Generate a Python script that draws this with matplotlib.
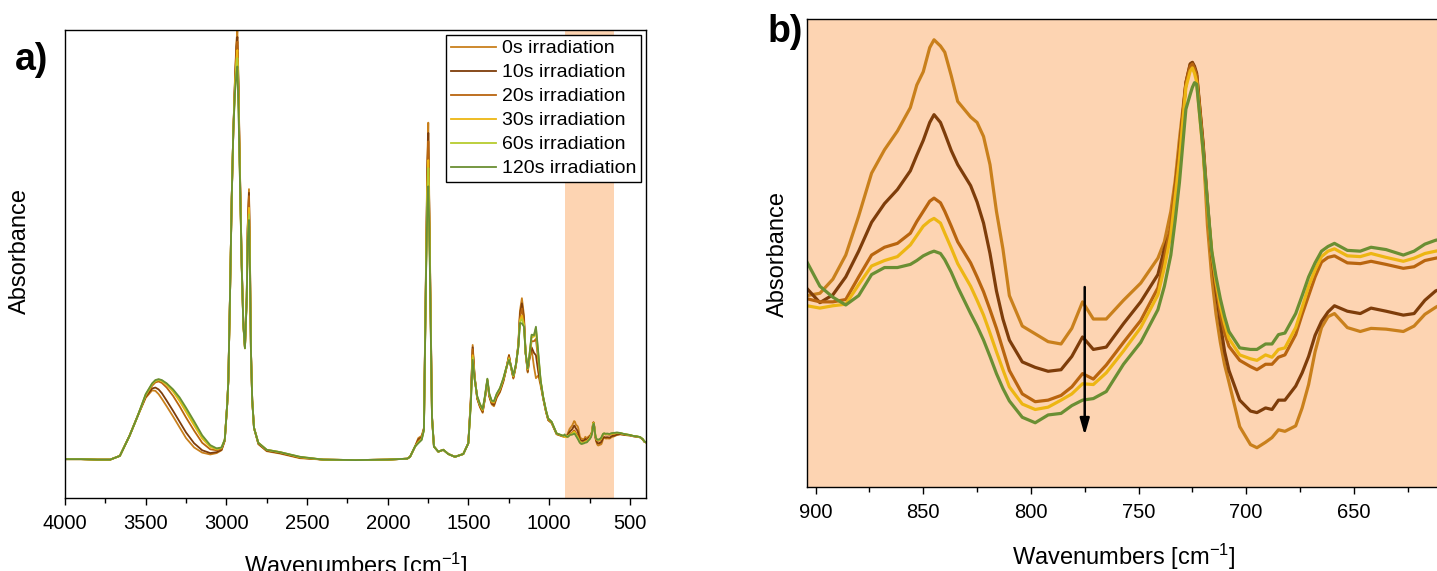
import numpy as np
import matplotlib
matplotlib.use("Agg")  # no display
import matplotlib.pyplot as plt
from matplotlib.ticker import MultipleLocator

plt.rcParams["font.family"] = ["Liberation Sans", "DejaVu Sans"]
plt.rcParams["mathtext.default"] = "regular"

labels = ["0s irradiation", "10s irradiation", "20s irradiation",
          "30s irradiation", "60s irradiation", "120s irradiation"]
colors = ["#C9801C", "#7E3D0A", "#B9650F", "#EDB613", "#B6CB2E", "#6A8F33"]
shade = "#FDD4B2"
zoom_window = (905, 600)

# wavenumbers [cm-1], high range (4000 - 913)
wn_hi = np.array([
    4000, 3900, 3800, 3720, 3660, 3600, 3550, 3500, 3460, 3440,
    3420, 3400, 3370, 3330, 3290, 3250, 3200, 3150, 3100, 3060,
    3030, 3010, 2995, 2988, 2978, 2967, 2957, 2947, 2938, 2932,
    2925, 2918, 2905, 2895, 2885, 2874, 2868, 2860, 2854, 2848,
    2840, 2829, 2802, 2750, 2668, 2544, 2400, 2200, 2000, 1880,
    1862, 1831, 1811, 1790, 1776, 1763, 1755, 1749, 1743, 1734,
    1726, 1714, 1687, 1656, 1625, 1584, 1532, 1501, 1486, 1474,
    1462, 1446, 1429, 1412, 1398, 1383, 1371, 1356, 1342, 1325,
    1305, 1284, 1268, 1249, 1237, 1222, 1206, 1191, 1181, 1169,
    1156, 1146, 1133, 1123, 1109, 1094, 1082, 1067, 1053, 1037,
    1020, 1006, 985, 954, 913])

hi_0s = [
    0.083, 0.083, 0.082, 0.082, 0.090, 0.133, 0.175, 0.214, 0.230, 0.229,
    0.222, 0.212, 0.196, 0.174, 0.151, 0.128, 0.108, 0.097, 0.093, 0.096,
    0.102, 0.122, 0.200, 0.250, 0.425, 0.640, 0.785, 0.895, 0.975, 0.998,
    0.890, 0.740, 0.500, 0.375, 0.320, 0.430, 0.580, 0.660, 0.520, 0.320,
    0.210, 0.150, 0.115, 0.100, 0.095, 0.085, 0.082, 0.081, 0.082, 0.084,
    0.088, 0.110, 0.128, 0.133, 0.150, 0.500, 0.720, 0.802, 0.640, 0.390,
    0.175, 0.110, 0.099, 0.103, 0.094, 0.088, 0.094, 0.117, 0.209, 0.327,
    0.262, 0.212, 0.194, 0.182, 0.212, 0.250, 0.216, 0.200, 0.196, 0.214,
    0.226, 0.248, 0.272, 0.306, 0.280, 0.255, 0.282, 0.330, 0.400, 0.427,
    0.390, 0.310, 0.268, 0.295, 0.318, 0.280, 0.256, 0.262, 0.240, 0.212,
    0.184, 0.166, 0.160, 0.136, 0.131]
hi_10s = [
    0.083, 0.083, 0.082, 0.082, 0.090, 0.133, 0.175, 0.216, 0.234, 0.236,
    0.232, 0.224, 0.208, 0.186, 0.163, 0.140, 0.117, 0.102, 0.096, 0.098,
    0.103, 0.123, 0.200, 0.250, 0.425, 0.640, 0.785, 0.890, 0.965, 0.985,
    0.880, 0.735, 0.498, 0.372, 0.320, 0.430, 0.576, 0.652, 0.515, 0.318,
    0.210, 0.150, 0.116, 0.101, 0.096, 0.086, 0.082, 0.081, 0.082, 0.084,
    0.088, 0.110, 0.125, 0.130, 0.148, 0.496, 0.705, 0.780, 0.628, 0.385,
    0.174, 0.110, 0.099, 0.103, 0.094, 0.088, 0.094, 0.117, 0.207, 0.322,
    0.260, 0.213, 0.196, 0.184, 0.213, 0.251, 0.218, 0.202, 0.199, 0.216,
    0.228, 0.250, 0.273, 0.304, 0.281, 0.257, 0.283, 0.328, 0.392, 0.416,
    0.382, 0.310, 0.270, 0.297, 0.322, 0.310, 0.305, 0.268, 0.246, 0.213,
    0.185, 0.167, 0.161, 0.137, 0.132]
hi_20s = [
    0.083, 0.083, 0.082, 0.082, 0.090, 0.133, 0.175, 0.218, 0.240, 0.247,
    0.249, 0.246, 0.236, 0.218, 0.196, 0.172, 0.144, 0.118, 0.104, 0.102,
    0.105, 0.124, 0.200, 0.250, 0.425, 0.640, 0.785, 0.885, 0.955, 0.975,
    0.870, 0.730, 0.496, 0.370, 0.320, 0.428, 0.572, 0.645, 0.510, 0.317,
    0.210, 0.150, 0.117, 0.102, 0.097, 0.087, 0.082, 0.081, 0.082, 0.084,
    0.088, 0.110, 0.122, 0.128, 0.147, 0.492, 0.690, 0.762, 0.618, 0.380,
    0.173, 0.110, 0.099, 0.103, 0.094, 0.088, 0.094, 0.117, 0.205, 0.318,
    0.258, 0.214, 0.197, 0.186, 0.214, 0.252, 0.219, 0.204, 0.202, 0.218,
    0.230, 0.252, 0.274, 0.302, 0.281, 0.258, 0.284, 0.326, 0.386, 0.405,
    0.376, 0.310, 0.272, 0.299, 0.335, 0.335, 0.340, 0.290, 0.248, 0.214,
    0.186, 0.168, 0.162, 0.137, 0.132]
hi_30s = [
    0.083, 0.083, 0.082, 0.082, 0.090, 0.133, 0.175, 0.220, 0.243, 0.250,
    0.252, 0.250, 0.242, 0.227, 0.207, 0.184, 0.155, 0.127, 0.109, 0.104,
    0.107, 0.125, 0.200, 0.250, 0.425, 0.640, 0.785, 0.875, 0.935, 0.957,
    0.855, 0.720, 0.494, 0.370, 0.320, 0.425, 0.562, 0.620, 0.497, 0.316,
    0.210, 0.150, 0.118, 0.103, 0.098, 0.087, 0.082, 0.081, 0.082, 0.084,
    0.088, 0.110, 0.119, 0.126, 0.146, 0.485, 0.660, 0.722, 0.600, 0.372,
    0.172, 0.110, 0.099, 0.103, 0.094, 0.088, 0.094, 0.117, 0.200, 0.305,
    0.256, 0.216, 0.199, 0.188, 0.216, 0.253, 0.221, 0.206, 0.205, 0.221,
    0.233, 0.254, 0.275, 0.299, 0.282, 0.260, 0.285, 0.324, 0.380, 0.390,
    0.370, 0.310, 0.275, 0.301, 0.343, 0.345, 0.358, 0.300, 0.250, 0.215,
    0.187, 0.169, 0.162, 0.138, 0.132]
hi_60s = [
    0.083, 0.083, 0.082, 0.082, 0.090, 0.133, 0.175, 0.221, 0.244, 0.251,
    0.253, 0.251, 0.244, 0.230, 0.212, 0.189, 0.160, 0.131, 0.111, 0.105,
    0.108, 0.125, 0.200, 0.250, 0.425, 0.640, 0.785, 0.870, 0.925, 0.940,
    0.845, 0.715, 0.494, 0.370, 0.320, 0.424, 0.556, 0.606, 0.490, 0.316,
    0.210, 0.150, 0.118, 0.103, 0.098, 0.088, 0.082, 0.081, 0.082, 0.084,
    0.088, 0.110, 0.118, 0.125, 0.145, 0.480, 0.645, 0.705, 0.592, 0.368,
    0.172, 0.110, 0.099, 0.103, 0.094, 0.088, 0.094, 0.117, 0.198, 0.300,
    0.255, 0.217, 0.200, 0.189, 0.217, 0.254, 0.222, 0.207, 0.206, 0.222,
    0.234, 0.255, 0.275, 0.297, 0.282, 0.261, 0.285, 0.323, 0.377, 0.382,
    0.368, 0.310, 0.276, 0.302, 0.346, 0.347, 0.363, 0.305, 0.251, 0.216,
    0.188, 0.170, 0.163, 0.138, 0.133]
hi_120s = [
    0.083, 0.083, 0.082, 0.082, 0.090, 0.133, 0.175, 0.222, 0.245, 0.252,
    0.254, 0.252, 0.245, 0.232, 0.215, 0.193, 0.164, 0.134, 0.113, 0.106,
    0.108, 0.125, 0.200, 0.250, 0.425, 0.640, 0.785, 0.865, 0.905, 0.922,
    0.830, 0.710, 0.494, 0.370, 0.320, 0.422, 0.550, 0.594, 0.484, 0.316,
    0.210, 0.150, 0.118, 0.103, 0.098, 0.088, 0.082, 0.081, 0.082, 0.084,
    0.088, 0.110, 0.117, 0.124, 0.145, 0.475, 0.620, 0.666, 0.580, 0.365,
    0.172, 0.110, 0.099, 0.103, 0.094, 0.088, 0.094, 0.117, 0.196, 0.295,
    0.254, 0.218, 0.201, 0.190, 0.218, 0.255, 0.223, 0.208, 0.207, 0.223,
    0.235, 0.256, 0.276, 0.295, 0.283, 0.262, 0.286, 0.322, 0.374, 0.373,
    0.366, 0.310, 0.277, 0.303, 0.349, 0.348, 0.366, 0.309, 0.252, 0.216,
    0.188, 0.170, 0.163, 0.138, 0.133]

# wavenumbers inside the highlighted window (904 - 600)
wn_zoom = np.array([
    904, 898, 892, 886, 880, 874, 868, 862, 856, 853,
    850, 847, 845, 842, 840, 837, 834, 828, 825, 822,
    819, 816, 813, 810, 804, 798, 792, 786, 781, 776,
    771, 765, 757, 749, 741, 738, 735, 733, 731, 728,
    726, 725, 724, 723, 720, 718, 716, 714, 712, 710,
    708, 703, 698, 695, 691, 688, 685, 682, 677, 674,
    671, 668, 665, 662, 659, 653, 647, 642, 635, 627,
    622, 617, 612, 606, 600])

zoom_0s = [
    0.1316, 0.1319, 0.1337, 0.1368, 0.1418, 0.1473, 0.1503, 0.1527, 0.1557, 0.1586,
    0.1603, 0.1634, 0.1644, 0.1636, 0.1628, 0.1598, 0.1565, 0.1545, 0.1538, 0.1520,
    0.1484, 0.1424, 0.1376, 0.1316, 0.1277, 0.1267, 0.1257, 0.1254, 0.1274, 0.1308,
    0.1286, 0.1286, 0.1310, 0.1332, 0.1364, 0.1385, 0.1424, 0.1463, 0.1517, 0.1589,
    0.1613, 0.1615, 0.1607, 0.1598, 0.1508, 0.1406, 0.1340, 0.1292, 0.1256, 0.1227,
    0.1205, 0.1148, 0.1125, 0.1121, 0.1128, 0.1134, 0.1144, 0.1142, 0.1149, 0.1172,
    0.1202, 0.1244, 0.1275, 0.1289, 0.1293, 0.1275, 0.1270, 0.1274, 0.1273, 0.1270,
    0.1277, 0.1292, 0.1301, 0.1310, 0.1313]
zoom_10s = [
    0.1325, 0.1307, 0.1317, 0.1340, 0.1373, 0.1410, 0.1434, 0.1452, 0.1476, 0.1496,
    0.1515, 0.1538, 0.1548, 0.1538, 0.1524, 0.1502, 0.1484, 0.1457, 0.1436, 0.1409,
    0.1370, 0.1322, 0.1286, 0.1259, 0.1231, 0.1224, 0.1219, 0.1221, 0.1238, 0.1263,
    0.1247, 0.1250, 0.1280, 0.1308, 0.1343, 0.1376, 0.1400, 0.1454, 0.1502, 0.1589,
    0.1613, 0.1615, 0.1610, 0.1601, 0.1511, 0.1436, 0.1368, 0.1322, 0.1280, 0.1244,
    0.1220, 0.1182, 0.1168, 0.1166, 0.1172, 0.1170, 0.1182, 0.1182, 0.1200, 0.1217,
    0.1238, 0.1265, 0.1283, 0.1295, 0.1303, 0.1296, 0.1293, 0.1300, 0.1296, 0.1291,
    0.1293, 0.1310, 0.1322, 0.1328, 0.1329]
zoom_20s = [
    0.1312, 0.1308, 0.1308, 0.1311, 0.1340, 0.1368, 0.1378, 0.1383, 0.1396, 0.1411,
    0.1424, 0.1437, 0.1441, 0.1435, 0.1424, 0.1405, 0.1385, 0.1358, 0.1340, 0.1321,
    0.1298, 0.1274, 0.1247, 0.1220, 0.1190, 0.1180, 0.1182, 0.1188, 0.1199, 0.1216,
    0.1209, 0.1227, 0.1256, 0.1284, 0.1326, 0.1364, 0.1406, 0.1454, 0.1502, 0.1588,
    0.1610, 0.1613, 0.1607, 0.1598, 0.1508, 0.1430, 0.1368, 0.1328, 0.1293, 0.1268,
    0.1251, 0.1233, 0.1225, 0.1221, 0.1228, 0.1228, 0.1237, 0.1240, 0.1266, 0.1292,
    0.1316, 0.1340, 0.1359, 0.1365, 0.1367, 0.1358, 0.1357, 0.1360, 0.1356, 0.1351,
    0.1353, 0.1361, 0.1364, 0.1367, 0.1368]
zoom_30s = [
    0.1303, 0.1300, 0.1303, 0.1305, 0.1330, 0.1354, 0.1361, 0.1366, 0.1381, 0.1393,
    0.1405, 0.1412, 0.1415, 0.1409, 0.1396, 0.1377, 0.1357, 0.1328, 0.1310, 0.1291,
    0.1268, 0.1244, 0.1221, 0.1199, 0.1177, 0.1170, 0.1173, 0.1182, 0.1190, 0.1203,
    0.1202, 0.1217, 0.1245, 0.1275, 0.1317, 0.1352, 0.1394, 0.1442, 0.1490, 0.1583,
    0.1604, 0.1608, 0.1601, 0.1590, 0.1499, 0.1430, 0.1373, 0.1334, 0.1303, 0.1280,
    0.1261, 0.1240, 0.1235, 0.1233, 0.1240, 0.1237, 0.1247, 0.1249, 0.1275, 0.1301,
    0.1328, 0.1349, 0.1366, 0.1373, 0.1376, 0.1367, 0.1366, 0.1370, 0.1365, 0.1360,
    0.1364, 0.1370, 0.1373, 0.1376, 0.1377]
zoom_120s = [
    0.1359, 0.1328, 0.1314, 0.1304, 0.1316, 0.1343, 0.1352, 0.1352, 0.1356, 0.1361,
    0.1367, 0.1371, 0.1373, 0.1370, 0.1362, 0.1346, 0.1327, 0.1293, 0.1277, 0.1259,
    0.1238, 0.1216, 0.1197, 0.1181, 0.1160, 0.1153, 0.1163, 0.1165, 0.1175, 0.1182,
    0.1184, 0.1193, 0.1228, 0.1256, 0.1298, 0.1328, 0.1368, 0.1412, 0.1461, 0.1555,
    0.1574, 0.1583, 0.1589, 0.1587, 0.1502, 0.1436, 0.1373, 0.1340, 0.1312, 0.1289,
    0.1270, 0.1249, 0.1247, 0.1247, 0.1254, 0.1254, 0.1266, 0.1268, 0.1293, 0.1316,
    0.1340, 0.1358, 0.1373, 0.1379, 0.1383, 0.1374, 0.1373, 0.1378, 0.1375, 0.1368,
    0.1373, 0.1382, 0.1387, 0.1390, 0.1391]

# 60s was only measured coarsely in the window (not shown in panel b)
wn_zoom_60s = np.array([904, 880, 862, 845, 834, 822, 810, 798, 786, 776, 765, 749, 735,
                        728, 725, 720, 712, 703, 695, 685, 677, 665, 659, 647, 627, 612, 600])
zoom_60s = [0.1330, 0.1323, 0.1360, 0.1395, 0.1342, 0.1275, 0.1190, 0.1162, 0.1174,
            0.1192, 0.1205, 0.1265, 0.1381, 0.1570, 0.1596, 0.1500, 0.1308, 0.1245,
            0.1240, 0.1256, 0.1284, 0.1370, 0.1380, 0.1370, 0.1364, 0.1380, 0.1384]

# low range (580 - 400)
wn_lo = np.array([580, 560, 540, 520, 500, 479, 460, 437, 420, 410, 400])
lo_0s = [0.1345, 0.1360, 0.1350, 0.1340, 0.1335, 0.1318, 0.1310, 0.1295, 0.1250, 0.1200, 0.1185]
lo_10s = [0.1355, 0.1365, 0.1355, 0.1345, 0.1338, 0.1320, 0.1312, 0.1297, 0.1252, 0.1202, 0.1187]
lo_20s = [0.1385, 0.1380, 0.1365, 0.1352, 0.1342, 0.1323, 0.1315, 0.1300, 0.1255, 0.1205, 0.1190]
lo_30s = [0.1390, 0.1385, 0.1368, 0.1355, 0.1345, 0.1325, 0.1317, 0.1302, 0.1257, 0.1207, 0.1192]
lo_60s = [0.1395, 0.1388, 0.1370, 0.1357, 0.1346, 0.1326, 0.1318, 0.1303, 0.1258, 0.1208, 0.1193]
lo_120s = [0.1400, 0.1390, 0.1372, 0.1358, 0.1347, 0.1327, 0.1318, 0.1303, 0.1258, 0.1208, 0.1193]

hi = [hi_0s, hi_10s, hi_20s, hi_30s, hi_60s, hi_120s]
lo = [lo_0s, lo_10s, lo_20s, lo_30s, lo_60s, lo_120s]
zoom = [zoom_0s, zoom_10s, zoom_20s, zoom_30s, zoom_60s, zoom_120s]
zoom_wn = [wn_zoom, wn_zoom, wn_zoom, wn_zoom, wn_zoom_60s, wn_zoom]
in_panel_b = [True, True, True, True, False, True]


def style_axis(ax):
    for sp in ax.spines.values():
        sp.set_linewidth(1.0)
    ax.set_yticks([])
    ax.tick_params(axis="x", which="major", direction="out", length=5, width=1.0,
                   labelsize=14.5, pad=6.5)
    ax.tick_params(axis="x", which="minor", direction="out", length=3.5, width=1.0)


fig = plt.figure(figsize=(14.37, 5.71), dpi=100)
ax_a = fig.add_axes([0.04523, 0.12785, 0.40432, 0.81961])
ax_b = fig.add_axes([0.56159, 0.14624, 0.44120, 0.81961])

# a) full spectrum
ax_a.axvspan(*zoom_window, color=shade, lw=0, zorder=0)
for i in range(len(labels)):
    x = np.concatenate([wn_hi, zoom_wn[i], wn_lo])
    y = np.concatenate([hi[i], zoom[i], lo[i]])
    ax_a.plot(x, y, color=colors[i], lw=1.3, label=labels[i], solid_joinstyle="round")
ax_a.set_xlim(4000, 400)
ax_a.set_ylim(0, 1.0)
ax_a.xaxis.set_major_locator(MultipleLocator(500))
ax_a.xaxis.set_minor_locator(MultipleLocator(250))
style_axis(ax_a)
ax_a.set_xlabel(r"Wavenumbers [cm$^{-1}$]", fontsize=17)
ax_a.set_ylabel("Absorbance", fontsize=17)
ax_a.xaxis.set_label_coords(0.5, -0.113)
ax_a.yaxis.set_label_coords(-0.0585, 0.528)
leg = ax_a.legend(loc="upper right", fontsize=14, frameon=True, fancybox=False,
                  edgecolor="black", framealpha=1, borderpad=0.25, borderaxespad=0.25,
                  handlelength=2.32, handletextpad=0.31, labelspacing=0.33)
leg.get_frame().set_linewidth(1.0)

# b) zoom on the highlighted window
ax_b.set_facecolor(shade)
for i in range(len(labels)):
    if in_panel_b[i]:
        ax_b.plot(zoom_wn[i], zoom[i], color=colors[i], lw=2.3, solid_joinstyle="round")
ax_b.annotate("", xy=(775, 0.1137), xytext=(775, 0.1327),
              arrowprops=dict(arrowstyle="-|>,head_length=0.7,head_width=0.2",
                              color="black", lw=1.8, mutation_scale=14,
                              shrinkA=0, shrinkB=0))
ax_b.set_xlim(904, 609.5)
ax_b.set_ylim(0.107, 0.167)
ax_b.xaxis.set_major_locator(MultipleLocator(50))
ax_b.xaxis.set_minor_locator(MultipleLocator(25))
style_axis(ax_b)
ax_b.set_xlabel(r"Wavenumbers [cm$^{-1}$]", fontsize=17)
ax_b.set_ylabel("Absorbance", fontsize=17)
ax_b.xaxis.set_label_coords(0.5, -0.1165)
ax_b.yaxis.set_label_coords(-0.0284, 0.499)

fig.text(15 / 1437, 1 - 60 / 571, "a)", fontsize=27, fontweight="bold", va="center", ha="left")
fig.text(768 / 1437, 1 - 32 / 571, "b)", fontsize=27, fontweight="bold", va="center", ha="left")

fig.savefig("out.png", dpi=100)
